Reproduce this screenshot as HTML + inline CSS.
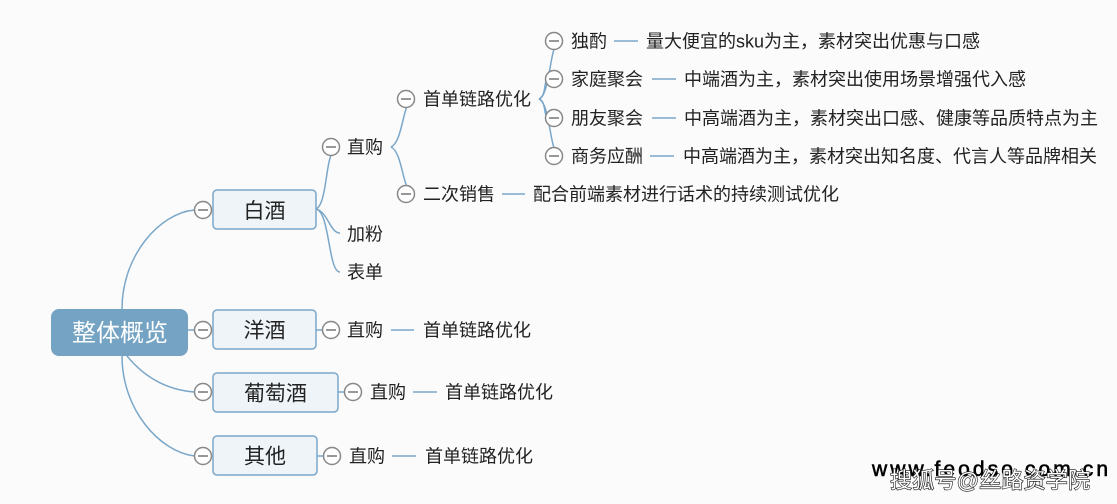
<!DOCTYPE html>
<html><head><meta charset="utf-8">
<style>
html,body{margin:0;padding:0;background:#fbfbfb;}
svg{display:block;}
text{font-family:"Liberation Sans","Noto Sans CJK SC","WenQuanYi Zen Hei",sans-serif;}
.t{font-size:18px;fill:#222;}
.b{font-size:21px;fill:#222;}
</style></head>
<body>
<svg width="1117" height="504" viewBox="0 0 1117 504" xmlns="http://www.w3.org/2000/svg">
<rect width="1117" height="504" fill="#fbfbfb"/>
<g fill="none" stroke="#7aa7c9" stroke-width="1.5">
  <path d="M122,309 C122,255 160,213 194.5,210"/>
  <path d="M188,330 L194.5,330"/>
  <path d="M127,356 C145,378 168,390 194.5,392"/>
  <path d="M122,356 C122,410 160,452 194.5,456"/>
  <path d="M316,209 C326,205 326,165 331,155.5"/>
  <path d="M316,209 C328,212 330,233 340,233"/>
  <path d="M316,209 C330,212 328,272 340,272"/>
  <path d="M391,147 C400,143 402,120 406.5,107.5"/>
  <path d="M391,147 C400,151 402,175 406.5,185.5"/>
  <path d="M539,99 C548,96 550,60 554,49.5"/>
  <path d="M539,99 C546,96 544,83 546.5,81"/>
  <path d="M539,99 C546,102 544,114 546.5,116"/>
  <path d="M539,99 C548,102 550,138 554,147.5"/>
  <path d="M614,41 H638"/>
  <path d="M652,79 H676"/>
  <path d="M652,118 H676"/>
  <path d="M650,156 H674"/>
  <path d="M502,194 H525"/>
  <path d="M316,330 H322.5"/>
  <path d="M391,330 H414"/>
  <path d="M338,392 H344.5"/>
  <path d="M413,392 H437"/>
  <path d="M317,456 H323.5"/>
  <path d="M392,456 H416"/>
</g>

<rect x="51" y="309" width="137" height="47" rx="8" fill="#74a3c3"/>
<text x="120" y="341" font-size="24" fill="#fff" text-anchor="middle">整体概览</text>

<g fill="#eef4f8" stroke="#7ba7c9" stroke-width="1.5">
  <rect x="213" y="190" width="103" height="39" rx="4"/>
  <rect x="213" y="310" width="103" height="39" rx="4"/>
  <rect x="213" y="373" width="125" height="39" rx="4"/>
  <rect x="213" y="436" width="104" height="39" rx="4"/>
</g>
<text class="b" x="264.5" y="218" text-anchor="middle">白酒</text>
<text class="b" x="264.5" y="337.5" text-anchor="middle">洋酒</text>
<text class="b" x="275.5" y="400.5" text-anchor="middle">葡萄酒</text>
<text class="b" x="265" y="463.5" text-anchor="middle">其他</text>

<g fill="#fff" stroke="#888" stroke-width="1.5">
  <circle cx="203" cy="210" r="8.5"/>
  <circle cx="203" cy="330" r="8.5"/>
  <circle cx="203" cy="392" r="8.5"/>
  <circle cx="203" cy="456" r="8.5"/>
  <circle cx="331" cy="147" r="8.5"/>
  <circle cx="406" cy="99" r="8.5"/>
  <circle cx="406" cy="194" r="8.5"/>
  <circle cx="554" cy="41" r="8.5"/>
  <circle cx="554" cy="79" r="8.5"/>
  <circle cx="554" cy="118" r="8.5"/>
  <circle cx="554" cy="156" r="8.5"/>
  <circle cx="331" cy="330" r="8.5"/>
  <circle cx="353" cy="392" r="8.5"/>
  <circle cx="332" cy="456" r="8.5"/>
</g>
<g stroke="#777" stroke-width="1.5">
  <path d="M198,210 H208 M198,330 H208 M198,392 H208 M198,456 H208"/>
  <path d="M326,147 H336 M401,99 H411 M401,194 H411"/>
  <path d="M549,41 H559 M549,79 H559 M549,118 H559 M549,156 H559"/>
  <path d="M326,330 H336 M348,392 H358 M327,456 H337"/>
</g>

<text class="t" x="347" y="153.5">直购</text>
<text class="t" x="347" y="240.5">加粉</text>
<text class="t" x="347" y="278.5">表单</text>
<text class="t" x="423" y="105.5">首单链路优化</text>
<text class="t" x="423" y="200.5">二次销售</text>
<text class="t" x="533" y="200.5">配合前端素材进行话术的持续测试优化</text>
<text class="t" x="571" y="47.5">独酌</text>
<text class="t" x="571" y="85.5">家庭聚会</text>
<text class="t" x="571" y="124.5">朋友聚会</text>
<text class="t" x="571" y="162.5">商务应酬</text>
<text class="t" x="646" y="47.5">量大便宜的sku为主，素材突出优惠与口感</text>
<text class="t" x="684" y="85.5">中端酒为主，素材突出使用场景增强代入感</text>
<text class="t" x="684" y="124.5">中高端酒为主，素材突出口感、健康等品质特点为主</text>
<text class="t" x="683" y="162.5">中高端酒为主，素材突出知名度、代言人等品牌相关</text>

<text class="t" x="347" y="336.5">直购</text>
<text class="t" x="423" y="336.5">首单链路优化</text>
<text class="t" x="370" y="398.5">直购</text>
<text class="t" x="445" y="398.5">首单链路优化</text>
<text class="t" x="349" y="462.5">直购</text>
<text class="t" x="425" y="462.5">首单链路优化</text>

<text x="872" y="476" font-size="21" fill="#000" stroke="#000" stroke-width="0.6" textLength="236" lengthAdjust="spacing">www.feodso.com.cn</text>
<text x="890" y="488" font-size="22" fill="#fff" stroke="#111" stroke-width="1.2" paint-order="stroke" textLength="200" lengthAdjust="spacing">搜狐号@丝路资学院</text>
</svg>
</body></html>
